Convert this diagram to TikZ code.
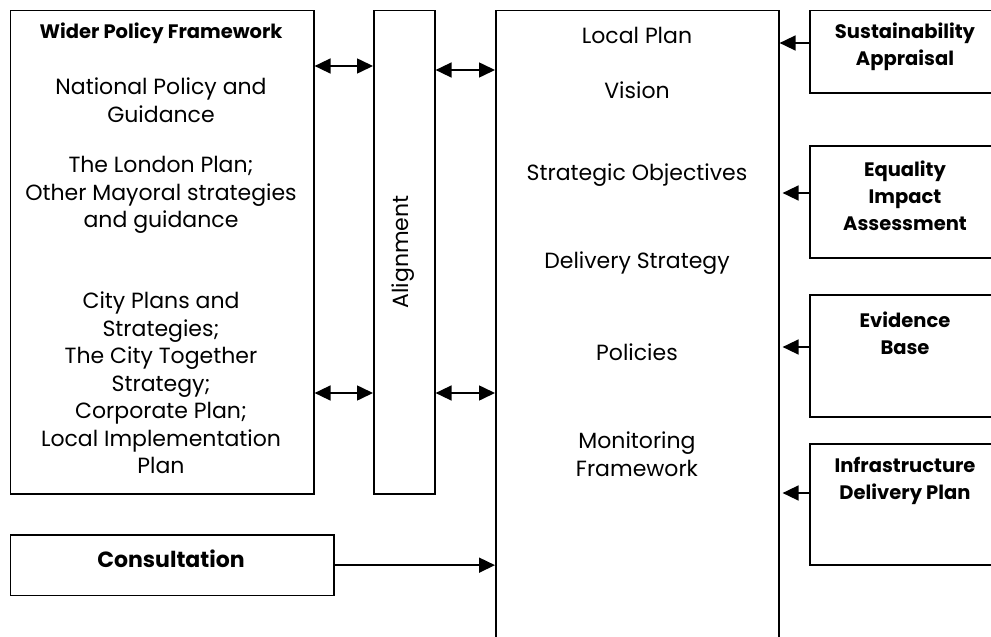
\documentclass[tikz,border=0pt]{standalone}
\usepackage{fontspec}
\setmainfont{Poppins}
\usetikzlibrary{arrows.meta}
\tikzset{
  box/.style={draw=black, line width=1.6pt, rectangle, anchor=north west, inner sep=0pt},
  txt/.style={align=center, inner sep=0pt, font=\fontsize{22}{27.5}\selectfont},
  btxt/.style={align=center, inner sep=0pt, font=\fontsize{19.5}{27}\selectfont\bfseries},
  tip/.style={-{Triangle[length=16pt,width=15pt]}, line width=1.6pt},
  dbl/.style={{Triangle[length=16pt,width=15pt]}-{Triangle[length=16pt,width=15pt]}, line width=1.6pt},
}
\begin{document}
\begin{tikzpicture}[x=1pt,y=-1pt]
\useasboundingbox (0,0) rectangle (991,637);
\clip (0,0) rectangle (991,637);
% boxes
\node[box, minimum width=303.5pt, minimum height=483.5pt] (wpf) at (9.5,9.5) {};
\node[box, minimum width=61pt, minimum height=483.5pt] (align) at (373,9.5) {};
\node[box, minimum width=283pt, minimum height=660pt] (lp) at (495,9.5) {};
\node[box, minimum width=323.5pt, minimum height=60.7pt] (cons) at (9.5,534) {};
\node[box, minimum width=200pt, minimum height=82.5pt] (sa) at (809,9.5) {};
\node[box, minimum width=200pt, minimum height=112pt] (eia) at (809,145) {};
\node[box, minimum width=200pt, minimum height=122pt] (eb) at (809,294) {};
\node[box, minimum width=200pt, minimum height=121pt] (idp) at (809,443) {};
% texts: wider policy framework
\node[btxt] (wpft) at (161,33) {Wider Policy Framework};
\node[txt] (npg) at (161,100) {National Policy and\\Guidance};
\node[txt] (lon) at (161,195) {The London Plan;\\Other Mayoral strategies\\and guidance};
\node[txt] (city) at (161,383) {City Plans and\\Strategies;\\The City Together\\Strategy;\\Corporate Plan;\\Local Implementation\\Plan};
% alignment
\node[txt, rotate=90] (alt) at (403,252) {Alignment};
% local plan
\node[txt] (lpt) at (637,35) {Local Plan};
\node[txt] (vis) at (637,90) {Vision};
\node[txt] (so) at (637,175) {Strategic Objectives};
\node[txt] (ds) at (637,263) {Delivery Strategy};
\node[txt] (pol) at (637,352) {Policies};
\node[txt] (mf) at (637,454) {Monitoring\\Framework};
% right boxes
\node[btxt] (sat) at (905,46.5) {Sustainability\\Appraisal};
\node[btxt] (eiat) at (905,196) {Equality\\Impact\\Assessment};
\node[btxt] (ebt) at (905,333.5) {Evidence\\Base};
\node[btxt] (idpt) at (905,480.5) {Infrastructure\\Delivery Plan};
% consultation
\node[btxt, font=\fontsize{22}{27}\selectfont\bfseries] (const) at (171,559) {Consultation};
% arrows
\draw[dbl] (wpf.east |- 0,66) -- (align.west |- 0,66);
\draw[dbl] (align.east |- 0,70) -- (lp.west |- 0,70);
\draw[dbl] (wpf.east |- 0,393) -- (align.west |- 0,393);
\draw[dbl] (align.east |- 0,393) -- (lp.west |- 0,393);
\draw[tip] (cons.east) -- (lp.west |- cons.east);
\draw[tip] (sa.west |- 0,43) -- (lp.east |- 0,43);
\draw[tip, shorten >=3pt] (eia.west |- 0,193) -- (lp.east |- 0,193);
\draw[tip, shorten >=3pt] (eb.west |- 0,347) -- (lp.east |- 0,347);
\draw[tip, shorten >=3pt] (idp.west |- 0,493) -- (lp.east |- 0,493);
\end{tikzpicture}
\end{document}
